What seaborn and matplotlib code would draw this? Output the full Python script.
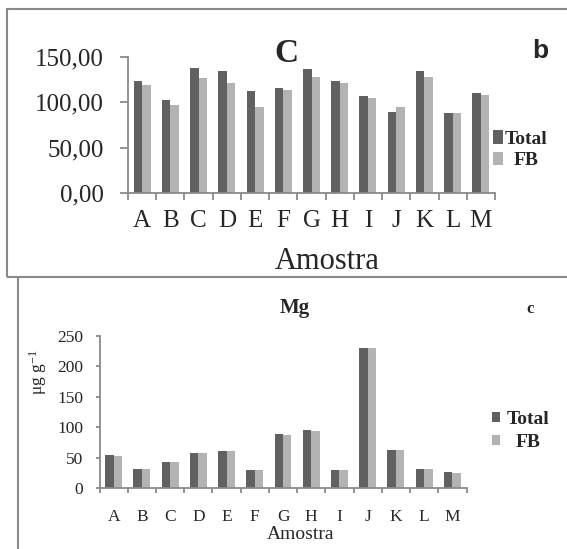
import numpy as np
import pandas as pd
import matplotlib
matplotlib.use("Agg")
import matplotlib.pyplot as plt
from matplotlib.patches import Rectangle
from matplotlib.lines import Line2D
from matplotlib.ticker import FuncFormatter
import seaborn as sns

# ---- data ----
amostras = list("ABCDEFGHIJKLM")
c_total = [123.2, 102.2, 137.9, 134.2, 112.1, 116.2, 136.4, 123.2, 107.4, 89.3, 134.9, 88.2, 109.9]
c_fb = [119.1, 97.1, 126.5, 121.0, 95.2, 113.2, 127.6, 121.3, 105.1, 95.2, 128.3, 88.6, 108.5]
mg_total = [54, 32, 42, 57, 61, 29, 88, 96, 29, 231, 63, 32, 26]
mg_fb = [52.5, 32, 42, 57, 61, 29, 87, 94, 29, 231, 63, 32, 24.5]
series = ["Total", "FB"]

sns.set_theme(style="white")
plt.rcParams["font.family"] = ["Liberation Serif", "DejaVu Serif"]
plt.rcParams["mathtext.fontset"] = "custom"
plt.rcParams["mathtext.rm"] = "Liberation Serif"
plt.rcParams["mathtext.it"] = "Liberation Serif:italic"

palette = {"Total": "#616161", "FB": "#b3b3b3"}
axis_grey = "#8a8a8a"

W, H = 567, 549
fig = plt.figure(figsize=(W / 100, H / 100), dpi=100)


def fx(px):
    return px / W


def fy(py):
    return 1 - py / H


def long_frame(total, fb):
    return pd.DataFrame({
        "Amostra": amostras * 2,
        "Serie": ["Total"] * len(amostras) + ["FB"] * len(amostras),
        "Valor": list(total) + list(fb),
    })


def style_axes(ax, tick_len_y, pad_y, tick_len_x, pad_x, yfs, xfs):
    for s in ("top", "right"):
        ax.spines[s].set_visible(False)
    for s in ("left", "bottom"):
        ax.spines[s].set_color(axis_grey)
        ax.spines[s].set_linewidth(1.3)
    ax.set_xlim(-0.5, len(amostras) - 0.5)
    ax.set_xticks(np.arange(len(amostras)))
    ax.set_xticklabels(amostras)
    ax.set_xticks(np.arange(-0.5, len(amostras), 1.0), minor=True)
    ax.tick_params(axis="x", which="major", length=0, pad=pad_x, labelsize=xfs)
    ax.tick_params(axis="x", which="minor", length=tick_len_x, width=1.3,
                   color=axis_grey, direction="out", bottom=True)
    ax.tick_params(axis="y", which="major", length=tick_len_y, width=1.3,
                   color=axis_grey, direction="out", left=True, pad=pad_y,
                   labelsize=yfs)
    ax.grid(False)


def add_legend(ax, anchor_px, fs, hl, hh, tp, ls):
    handles = [Rectangle((0, 0), 1, 1, facecolor=palette[s], edgecolor="none") for s in series]
    leg = ax.legend(handles, series, loc="upper left",
                    bbox_to_anchor=(fx(anchor_px[0]), fy(anchor_px[1])),
                    bbox_transform=fig.transFigure, frameon=False,
                    handlelength=hl, handleheight=hh, handletextpad=tp,
                    labelspacing=ls, borderpad=0, borderaxespad=0,
                    prop={"family": "Liberation Serif", "weight": "bold", "size": fs})
    # centre the shorter labels under the widest one
    r = fig.canvas.get_renderer()
    texts = leg.get_texts()
    widths = [t.get_window_extent(r).width for t in texts]
    wmax = max(widths)
    for t, w in zip(texts, widths):
        t.set_position(((wmax - w) / 2, 0))
    return leg


# ---- panel b: C ----
ax1 = fig.add_axes([fx(128), fy(193), fx(495) - fx(128), fy(57) - fy(193)])
sns.barplot(data=long_frame(c_total, c_fb), x="Amostra", y="Valor", hue="Serie",
            hue_order=series, palette=palette, width=0.6, gap=0, saturation=1,
            linewidth=0, errorbar=None, legend=False, ax=ax1)
ax1.set_ylim(0, 150)
ax1.set_yticks([0, 50, 100, 150])
ax1.yaxis.set_major_formatter(FuncFormatter(lambda v, p: f"{v:.2f}".replace(".", ",")))
style_axes(ax1, 5.8, 11.5, 5, 12, 18, 18)
ax1.set_ylabel("")
ax1.set_xlabel("Amostra", fontsize=22)
ax1.xaxis.set_label_coords((327 - 128) / 367, (193 - 247) / 136)
add_legend(ax1, (493, 130), 14, 0.52, 0.72, 0.1, 0.2)

fig.text(fx(286), fy(54), "C", ha="center", va="center", fontsize=24, fontweight="bold")
fig.text(fx(540), fy(51), "b", ha="center", va="center", fontsize=19,
         fontweight="bold", family=["Liberation Sans", "DejaVu Sans"])

# ---- panel c: Mg ----
ax2 = fig.add_axes([fx(99.5), fy(488), fx(466.5) - fx(99.5), fy(336) - fy(488)])
sns.barplot(data=long_frame(mg_total, mg_fb), x="Amostra", y="Valor", hue="Serie",
            hue_order=series, palette=palette, width=0.6, gap=0, saturation=1,
            linewidth=0, errorbar=None, legend=False, ax=ax2)
ax2.set_ylim(0, 250)
ax2.set_yticks([0, 50, 100, 150, 200, 250])
style_axes(ax2, 3, 8.6, 3.6, 15, 12.5, 12.5)
ax2.set_ylabel(r"μg g$^{\mathrm{-1}}$", fontsize=12.5)
ax2.yaxis.set_label_coords((49 - 99.5) / 367, (488 - 372) / 152)
ax2.set_xlabel("Amostra", fontsize=14)
ax2.xaxis.set_label_coords((301 - 99.5) / 367, (488 - 526) / 152)
add_legend(ax2, (492, 411), 14, 0.4, 0.45, 0.36, 0.3)

fig.text(fx(295), fy(308), "Mg", ha="center", va="center", fontsize=15, fontweight="bold")
fig.text(fx(530), fy(309), "c", ha="center", va="center", fontsize=12, fontweight="bold")

# ---- panel frames ----
fig.add_artist(Rectangle((fx(7.3), fy(277)), 1.2, fy(9.3) - fy(277),
                         transform=fig.transFigure, fill=False,
                         edgecolor=axis_grey, linewidth=1.5))
fig.add_artist(Line2D([fx(18), fx(18)], [0, fy(277)], transform=fig.transFigure,
                      color=axis_grey, linewidth=1.5))

fig.savefig("out.png", dpi=100)
